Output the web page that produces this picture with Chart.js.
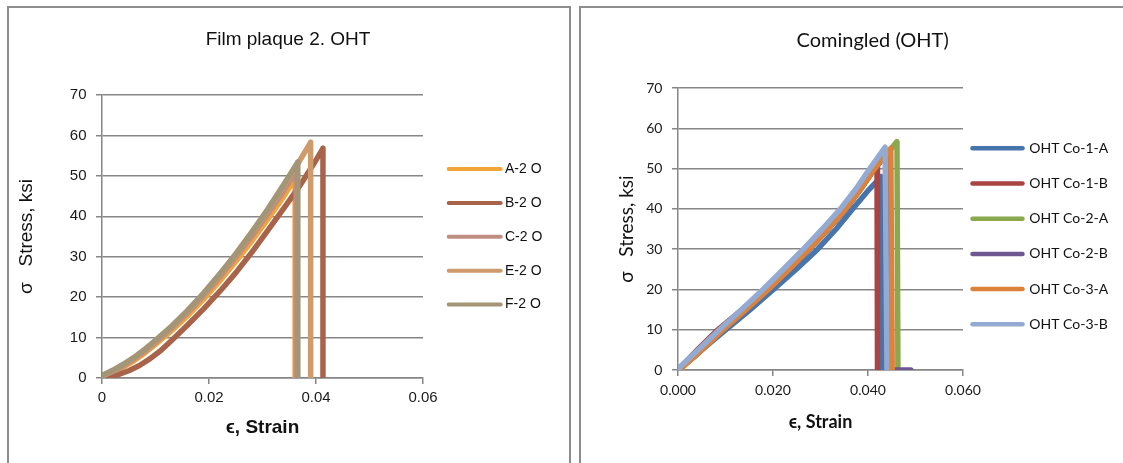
<!DOCTYPE html>
<html>
<head>
<meta charset="utf-8">
<title>OHT stress-strain curves</title>
<script src="https://cdn.jsdelivr.net/npm/chart.js@4.4.1/dist/chart.umd.min.js"></script>
<style>
  html, body { margin: 0; padding: 0; background: #ffffff; overflow: hidden; }
  body { width: 1123px; height: 463px; position: relative; }
  .frame { position: absolute; border: 2px solid #8d8d8d; box-sizing: border-box; }
  #frameLeft { left: 7px; top: 6px; width: 564px; height: 520px; }
  #frameRight { left: 579px; top: 6px; width: 620px; height: 520px; }
  canvas { position: absolute; top: 0; }
  #filmChart { left: 0; }
  #cominChart { left: 575px; }
</style>
</head>
<body>
<div class="frame" id="frameLeft"></div>
<div class="frame" id="frameRight"></div>
<canvas id="filmChart" width="570" height="463"></canvas>
<canvas id="cominChart" width="548" height="463"></canvas>
<script>
// ---- Film plaque 2, open-hole tension: strain / stress (ksi) ----
const filmSeries = ['A-2 O', 'B-2 O', 'C-2 O', 'E-2 O', 'F-2 O'];
const strainA2 = [0, 0.002, 0.004, 0.006, 0.008, 0.010, 0.013, 0.016, 0.019, 0.022, 0.025, 0.028, 0.031, 0.034, 0.0361, 0.0361];
const stressA2 = [0.4, 1.4, 2.7, 4.3, 6.2, 8.3, 11.7, 15.4, 19.5, 24.0, 28.8, 33.9, 39.3, 45.0, 49.4, 0];
const strainB2 = [0.001, 0.003, 0.005, 0.007, 0.009, 0.011, 0.013, 0.016, 0.019, 0.022, 0.025, 0.028, 0.031, 0.034, 0.037, 0.0395, 0.0413, 0.0413];
const stressB2 = [0, 0.8, 1.8, 3.1, 4.8, 6.8, 9.3, 13.1, 17.1, 21.4, 26.0, 31.1, 36.5, 42.0, 47.6, 52.8, 56.8, 0];
const strainC2 = [0, 0.002, 0.004, 0.006, 0.008, 0.010, 0.013, 0.016, 0.019, 0.022, 0.025, 0.028, 0.031, 0.034, 0.0363, 0.0363];
const stressC2 = [0.5, 1.6, 3.0, 4.7, 6.6, 8.8, 12.3, 16.2, 20.4, 25.0, 29.9, 35.1, 40.6, 46.4, 51.3, 0];
const strainE2 = [0, 0.002, 0.004, 0.006, 0.008, 0.010, 0.013, 0.016, 0.019, 0.022, 0.025, 0.028, 0.031, 0.034, 0.0366, 0.0390, 0.0390];
const stressE2 = [0.5, 1.8, 3.3, 5.0, 7.0, 9.2, 12.7, 16.6, 20.9, 25.6, 30.6, 36.0, 41.6, 47.6, 53.0, 58.3, 0];
const strainF2 = [0, 0.002, 0.004, 0.006, 0.008, 0.010, 0.013, 0.016, 0.019, 0.022, 0.025, 0.028, 0.031, 0.034, 0.0366, 0.0366];
const stressF2 = [0.6, 1.9, 3.4, 5.1, 7.1, 9.3, 12.8, 16.7, 21.0, 25.7, 30.7, 36.1, 41.8, 47.9, 53.4, 0];
const filmXTicks = ['0', '0.02', '0.04', '0.06'];

// ---- Comingled, open-hole tension ----
const cominSeries = ['OHT Co-1-A', 'OHT Co-1-B', 'OHT Co-2-A', 'OHT Co-2-B', 'OHT Co-3-A', 'OHT Co-3-B'];
const strainCo1A = [0, 0.005, 0.0101, 0.0152, 0.0201, 0.0249, 0.0294, 0.0333, 0.0368, 0.0400, 0.0428, 0.0430];
const stressCo1A = [0, 5.0, 10, 15, 20, 25, 30, 35, 40, 44.5, 48.0, 0];
const strainCo1B = [0, 0.004, 0.008, 0.0135, 0.0185, 0.0232, 0.0276, 0.0316, 0.0353, 0.0385, 0.0414, 0.0419, 0.0420];
const stressCo1B = [0, 4.9, 9.6, 15.0, 20, 25, 30, 35, 40, 45, 50, 50.6, 0];
const strainCo2A = [0, 0.004, 0.0095, 0.0143, 0.019, 0.0234, 0.0276, 0.0316, 0.0353, 0.0385, 0.0414, 0.0440, 0.0461, 0.0463];
const stressCo2A = [0, 3.9, 10, 15, 20, 25, 30, 35, 40, 45, 50, 53.6, 56.7, 0];
const strainCo2B = [0, 0.004, 0.0095, 0.0143, 0.019, 0.0234, 0.0276, 0.0316, 0.0353, 0.0385, 0.0414, 0.0446, 0.0449, 0.0490];
const stressCo2B = [0, 3.9, 10, 15, 20, 25, 30, 35, 40, 45, 50, 54.5, 0, 0];
const strainCo3A = [0.0003, 0.004, 0.0095, 0.0143, 0.019, 0.0234, 0.0276, 0.0316, 0.0353, 0.0385, 0.0414, 0.0448, 0.0451];
const stressCo3A = [0, 3.9, 10, 15, 20, 25, 30, 35, 40, 45, 50, 55, 0];
const strainCo3B = [0, 0.004, 0.0087, 0.0134, 0.0179, 0.0222, 0.0264, 0.0304, 0.0342, 0.0375, 0.0404, 0.0436, 0.0440];
const stressCo3B = [0.3, 4.7, 10, 15, 20, 25, 30, 35, 40, 45, 50, 55.3, 0];
const cominXTicks = ['0.000', '0.020', '0.040', '0.060'];

const stressTicks = ['0', '10', '20', '30', '40', '50', '60', '70'];

// ---- helpers ----
const pairs = (xs, ys) => xs.map((x, i) => ({ x: x, y: ys[i] }));
const GRID = '#868686';

// Chart title and line legend drawn onto the chart canvas
const panelText = {
  id: 'panelText',
  afterDraw(chart, args, o) {
    const ctx = chart.ctx;
    ctx.save();
    ctx.textBaseline = 'middle';
    ctx.textAlign = 'center';
    ctx.fillStyle = '#111111';
    ctx.font = o.titleFont;
    ctx.fillText(o.title, o.titleX, o.titleY);
    ctx.textAlign = 'left';
    ctx.font = o.legendFont;
    chart.data.datasets.forEach((ds, i) => {
      const y = o.legendY + i * o.legendGap;
      ctx.strokeStyle = ds.borderColor;
      ctx.lineWidth = o.legendLineWidth;
      ctx.lineCap = 'round';
      ctx.beginPath();
      ctx.moveTo(o.legendX0, y);
      ctx.lineTo(o.legendX1, y);
      ctx.stroke();
      ctx.fillStyle = '#111111';
      ctx.fillText(ds.label, o.legendTextX, y);
    });
    ctx.restore();
  }
};

function lineSet(label, xs, ys, color, width, order) {
  return {
    label: label,
    data: pairs(xs, ys),
    borderColor: color,
    backgroundColor: color,
    borderWidth: width,
    pointRadius: 0,
    pointHoverRadius: 0,
    tension: 0,
    fill: false,
    borderCapStyle: 'round',
    borderJoinStyle: 'round',
    order: order
  };
}

function axes(cfg) {
  return {
    x: {
      type: 'linear',
      min: 0, max: 0.06,
      afterFit: s => { s.height = cfg.xHeight; },
      afterBuildTicks: s => { s.ticks = [0, 0.02, 0.04, 0.06].map(v => ({ value: v })); },
      ticks: {
        color: '#1a1a1a',
        padding: cfg.xTickPad,
        maxRotation: 0,
        font: { family: cfg.family, size: cfg.tickSize },
        callback: (v, i) => cfg.xLabels[i]
      },
      grid: { display: true, drawOnChartArea: false, drawTicks: true, tickLength: 6, color: GRID, lineWidth: 1.5 },
      border: { display: true, color: GRID, width: 1.5 },
      title: {
        display: true, text: 'ϵ, Strain', color: '#111111',
        font: { family: cfg.family, size: cfg.xTitleSize, weight: 'bold' },
        padding: { top: 0, bottom: cfg.xTitlePad }
      }
    },
    y: {
      type: 'linear',
      min: 0, max: 70,
      afterFit: s => { s.width = cfg.yWidth; },
      ticks: {
        stepSize: 10,
        color: '#1a1a1a',
        padding: cfg.yTickPad,
        font: { family: cfg.family, size: cfg.tickSize },
        callback: (v, i) => stressTicks[i]
      },
      grid: { display: true, drawTicks: true, tickLength: 6, color: GRID, lineWidth: 1.5 },
      border: { display: true, color: GRID, width: 1.5 },
      title: {
        display: true, text: 'σ   Stress, ksi', color: '#111111',
        font: { family: cfg.family, size: cfg.yTitleSize, weight: 'normal' },
        padding: { top: cfg.yTitlePad, bottom: 0 }
      }
    }
  };
}

const baseOptions = {
  responsive: false,
  animation: false,
  devicePixelRatio: 1,
  events: [],
  plugins: { legend: { display: false }, title: { display: false }, tooltip: { enabled: false } }
};

// ---- Film plaque 2. OHT ----
const filmColors = ['#F2A33A', '#A8644B', '#BE8E80', '#CE9C6C', '#A39676'];
const filmStrains = [strainA2, strainB2, strainC2, strainE2, strainF2];
const filmStresses = [stressA2, stressB2, stressC2, stressE2, stressF2];

new Chart(document.getElementById('filmChart'), {
  type: 'line',
  data: {
    datasets: filmSeries.map((name, i) =>
      lineSet(name, filmStrains[i], filmStresses[i], filmColors[i], 5.5, filmSeries.length - i))
  },
  options: Object.assign({}, baseOptions, {
    layout: { padding: { left: 0, top: 95, right: 147, bottom: 0 } },
    scales: axes({
      family: '"Liberation Sans", Arial, sans-serif',
      tickSize: 15, xLabels: filmXTicks,
      xHeight: 85, yWidth: 102,
      xTickPad: 5, yTickPad: 9.5,
      xTitleSize: 19, xTitlePad: 24,
      yTitleSize: 19, yTitlePad: 15.8
    }),
    plugins: Object.assign({}, baseOptions.plugins, {
      panelText: {
        title: 'Film plaque 2. OHT',
        titleFont: '19px "Liberation Sans", Arial, sans-serif',
        titleX: 288, titleY: 40,
        legendFont: '14px "Liberation Sans", Arial, sans-serif',
        legendX0: 448.7, legendX1: 500.7, legendTextX: 505,
        legendY: 169, legendGap: 33.9, legendLineWidth: 4
      }
    })
  }),
  plugins: [panelText]
});

// ---- Comingled (OHT) ----
const cominColors = ['#4674AB', '#A94442', '#8AA84E', '#6F5792', '#DC823A', '#93AAD2'];
const cominStrains = [strainCo1A, strainCo1B, strainCo2A, strainCo2B, strainCo3A, strainCo3B];
const cominStresses = [stressCo1A, stressCo1B, stressCo2A, stressCo2B, stressCo3A, stressCo3B];

new Chart(document.getElementById('cominChart'), {
  type: 'line',
  data: {
    datasets: cominSeries.map((name, i) =>
      lineSet(name, cominStrains[i], cominStresses[i], cominColors[i], 5.5, cominSeries.length - i))
  },
  options: Object.assign({}, baseOptions, {
    layout: { padding: { left: 0, top: 88, right: 160, bottom: 0 } },
    scales: axes({
      family: 'Lato, "Open Sans", sans-serif',
      tickSize: 14, xLabels: cominXTicks,
      xHeight: 93, yWidth: 103,
      xTickPad: 6.5, yTickPad: 9.6,
      xTitleSize: 18, xTitlePad: 30.5,
      yTitleSize: 19, yTitlePad: 40
    }),
    plugins: Object.assign({}, baseOptions.plugins, {
      panelText: {
        title: 'Comingled (OHT)',
        titleFont: '20px Lato, "Open Sans", sans-serif',
        titleX: 297.6, titleY: 41,
        legendFont: '14px Lato, "Open Sans", sans-serif',
        legendX0: 397.5, legendX1: 447.5, legendTextX: 454.3,
        legendY: 148.3, legendGap: 35.2, legendLineWidth: 4.5
      }
    })
  }),
  plugins: [panelText]
});
</script>
</body>
</html>
